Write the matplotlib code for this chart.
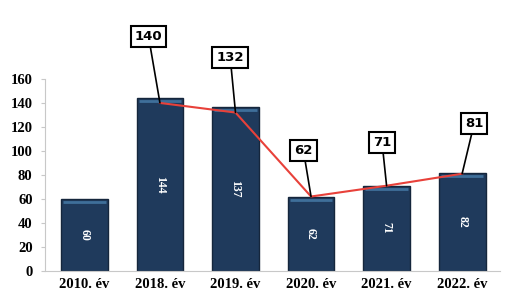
import numpy as np
import matplotlib.pyplot as plt

# data
years = ['2010. év', '2018. év', '2019. év', '2020. év', '2021. év', '2022. év']
barValues = [60, 144, 137, 62, 71, 82]
lineValues = [140, 132, 62, 71, 81]   # starts at 2018
yTicks = [0, 20, 40, 60, 80, 100, 120, 140, 160]

# where the callout boxes sit (data coords)
calloutX = [0.85, 1.93, 2.9, 3.94, 5.16]
calloutY = [195, 178, 100, 107, 123]

barColor = '#1f3a5c'

fig = plt.figure(figsize=(5.07, 2.99), dpi=100)
ax = fig.add_axes([0.089, 0.094, 0.897, 0.642])

x = np.arange(len(years))
bars = ax.bar(x, barValues, width=0.62, color=barColor, edgecolor='#15263c', linewidth=1.0, zorder=2)
# lighter band at the top of each bar
for xi, v in zip(x, barValues):
    ax.plot([xi - 0.28, xi + 0.28], [v - 2.5, v - 2.5], color='#3f6f9a', lw=2, zorder=3, solid_capstyle='butt')
    ax.text(xi, v / 2, str(v), rotation=270, ha='center', va='center',
            color='white', fontsize=8.5, fontweight='bold', family='Liberation Serif', zorder=4)

lx = x[1:]
ax.plot(lx, lineValues, color='#e8413a', lw=1.5, zorder=5)

for xi, v, tx, ty in zip(lx, lineValues, calloutX, calloutY):
    ax.annotate(str(v), xy=(xi, v), xytext=(tx, ty), ha='center', va='center',
                fontsize=9.5, fontweight='bold', family='DejaVu Sans',
                bbox=dict(boxstyle='square,pad=0.3', fc='white', ec='black', lw=1.5),
                arrowprops=dict(arrowstyle='-', color='black', lw=1.2, shrinkA=0, shrinkB=0),
                annotation_clip=False, zorder=6)

ax.set_xlim(-0.52, 5.5)
ax.set_ylim(0, 160)
ax.set_yticks(yTicks)
ax.set_xticks(x)
ax.set_xticklabels(years)
for lab in ax.get_xticklabels() + ax.get_yticklabels():
    lab.set_family('Liberation Serif')
    lab.set_fontweight('bold')
    lab.set_fontsize(10.5)

ax.spines['top'].set_visible(False)
ax.spines['right'].set_visible(False)
ax.spines['left'].set_color('#c8c8c8')
ax.spines['bottom'].set_color('#c8c8c8')
ax.tick_params(axis='y', length=3, color='#c8c8c8', pad=6)
ax.tick_params(axis='x', length=0, pad=5)

fig.savefig('out.png', dpi=100)
